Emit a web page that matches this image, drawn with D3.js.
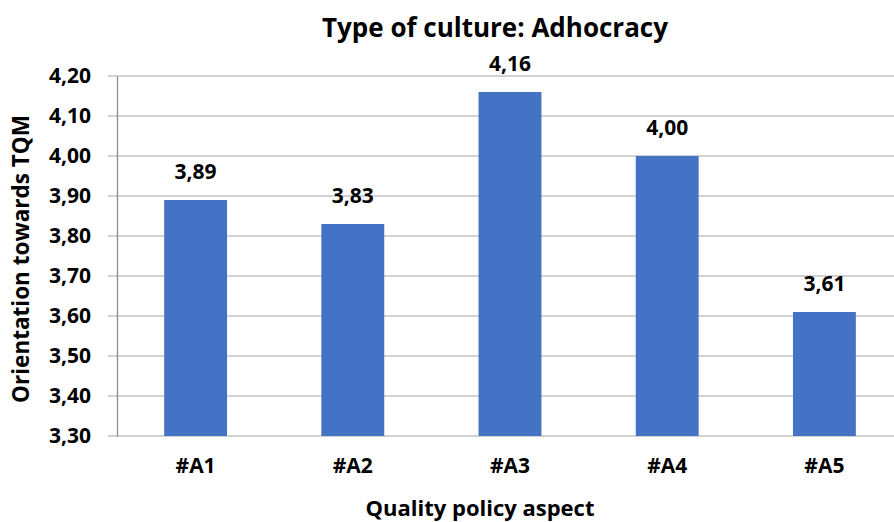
<!DOCTYPE html>
<html><head><meta charset="utf-8">
<script src="https://cdn.jsdelivr.net/npm/d3@7"></script>
<style>body{margin:0;background:#fff}svg{display:block}text{font-family:"Open Sans",sans-serif;font-weight:700;fill:#000}</style>
</head><body><svg id="c" width="894" height="522"></svg>
<script>
const categories = ["#A1","#A2","#A3","#A4","#A5"];
const values = [3.89, 3.83, 4.16, 4.00, 3.61];
const yTicks = [3.30,3.40,3.50,3.60,3.70,3.80,3.90,4.00,4.10,4.20];
const titleText = "Type of culture: Adhocracy";
const xTitle = "Quality policy aspect";
const yTitle = "Orientation towards TQM";

const svg = d3.select("#c");
const fmt = v => v.toFixed(2).replace(".", ",");
const x = d3.scaleBand().domain(categories).range([117, 903]);
const y = d3.scaleLinear().domain([3.30, 4.20]).range([436, 76]);

// gridlines
svg.append("g").selectAll("line").data(yTicks).join("line")
  .attr("x1", 108).attr("x2", 903)
  .attr("y1", d => y(d)).attr("y2", d => y(d))
  .attr("stroke", "#a6a6a6").attr("stroke-width", 1.2);

// y axis
const yAxis = svg.append("g").attr("transform", "translate(117,0)")
  .call(d3.axisLeft(y).tickValues(yTicks).tickFormat(fmt).tickSize(0).tickPadding(26));
yAxis.select(".domain").attr("stroke", "#8c8c8c").attr("stroke-width", 1.3);
yAxis.selectAll("text").style("font-size", "21px").style("font-family", "'Open Sans',sans-serif").style("font-weight", 700).attr("fill", "#000");

// bars
const bw = x.step() * 0.4;
svg.append("g").selectAll("rect").data(values).join("rect")
  .attr("x", (d, i) => x(categories[i]) + x.bandwidth() / 2 - bw / 2)
  .attr("width", bw)
  .attr("y", d => y(d))
  .attr("height", d => y(3.30) - y(d))
  .attr("fill", "#4472c4");

// value labels
svg.append("g").selectAll("text").data(values).join("text")
  .attr("x", (d, i) => x(categories[i]) + x.bandwidth() / 2)
  .attr("y", d => y(d) - 21)
  .attr("text-anchor", "middle").style("font-size", "21px")
  .text(fmt);

// x axis labels
const xAxis = svg.append("g").attr("transform", "translate(0,436)")
  .call(d3.axisBottom(x).tickSize(0).tickPadding(22));
xAxis.select(".domain").remove();
xAxis.selectAll("text").style("font-size", "21px").style("font-family", "'Open Sans',sans-serif").style("font-weight", 700).attr("fill", "#000");

// titles
svg.append("text").attr("x", 495).attr("y", 37).attr("text-anchor", "middle")
  .style("font-size", "26px").text(titleText);
svg.append("text").attr("x", 480).attr("y", 516).attr("text-anchor", "middle")
  .style("font-size", "22px").text(xTitle);
svg.append("text").attr("transform", "translate(29,259) rotate(-90)").attr("text-anchor", "middle")
  .style("font-size", "22.5px").text(yTitle);
</script></body></html>
